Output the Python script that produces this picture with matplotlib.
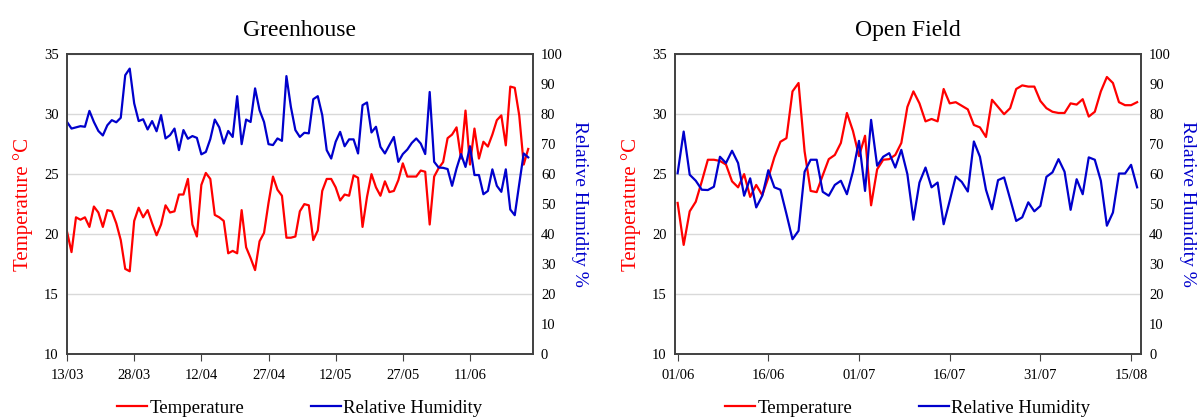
import pandas as pd
import matplotlib.pyplot as plt
import matplotlib.dates as mdates

plt.rcParams['font.family'] = ['Liberation Serif', 'DejaVu Serif']

# Greenhouse daily means, 13/03 onwards
gh_temp = [20.2, 18.5, 21.4, 21.2, 21.4, 20.6, 22.3, 21.8, 20.6, 22.0,
           21.9, 20.9, 19.5, 17.1, 16.9, 21.1, 22.2, 21.4, 22.0, 20.9,
           19.9, 20.8, 22.4, 21.8, 21.9, 23.3, 23.3, 24.6, 20.8, 19.8,
           24.1, 25.1, 24.6, 21.6, 21.4, 21.1, 18.4, 18.6, 18.4, 22.0,
           18.9, 18.0, 17.0, 19.4, 20.1, 22.6, 24.8, 23.7, 23.2, 19.7,
           19.7, 19.8, 21.9, 22.5, 22.4, 19.5, 20.3, 23.6, 24.6, 24.6,
           23.9, 22.8, 23.3, 23.2, 24.9, 24.7, 20.6, 23.1, 25.0, 23.9,
           23.2, 24.4, 23.5, 23.6, 24.5, 25.9, 24.8, 24.8, 24.8, 25.3,
           25.2, 20.8, 24.8, 25.5, 26.0, 28.0, 28.3, 28.9, 26.3, 30.3,
           25.8, 28.8, 26.3, 27.7, 27.3, 28.3, 29.5, 29.9, 27.4, 32.3,
           32.2, 29.9, 25.8, 27.1]
gh_rh = [77.4, 75.2, 75.6, 76.0, 75.8, 81.1, 77.4, 74.4, 72.9, 76.3,
         78.0, 77.3, 78.8, 93.0, 95.2, 83.6, 77.7, 78.3, 74.9, 77.7,
         74.3, 79.7, 71.9, 73.0, 75.2, 68.0, 74.7, 71.8, 72.7, 72.1,
         66.6, 67.4, 71.7, 78.2, 75.6, 70.2, 74.4, 72.4, 86.0, 70.0,
         78.2, 77.4, 88.6, 81.3, 77.4, 70.0, 69.7, 71.9, 71.1, 92.7,
         82.4, 74.7, 72.4, 73.8, 73.6, 85.0, 86.0, 79.7, 68.0, 65.2,
         70.8, 74.1, 69.3, 71.6, 71.6, 66.9, 83.0, 83.9, 73.9, 75.8,
         69.1, 66.9, 69.7, 72.4, 64.1, 66.7, 68.2, 70.4, 71.9, 70.2,
         66.7, 87.4, 64.1, 62.2, 62.1, 61.7, 56.1, 61.9, 66.7, 62.4,
         69.3, 59.7, 59.7, 53.3, 54.4, 61.6, 56.1, 54.1, 61.6, 48.2,
         46.3, 56.7, 66.9, 65.6]

# Open field daily means, 01/06 onwards
of_temp = [22.6, 19.1, 21.9, 22.7, 24.4, 26.2, 26.2, 26.1, 25.8, 24.4,
           23.9, 25.0, 23.1, 24.1, 23.25, 24.7, 26.4, 27.7, 28.0, 31.9,
           32.6, 26.9, 23.6, 23.5, 24.9, 26.25, 26.6, 27.6, 30.1, 28.6,
           26.5, 28.2, 22.4, 25.4, 26.2, 26.25, 26.6, 27.6, 30.6, 31.9,
           30.9, 29.4, 29.6, 29.4, 32.1, 30.9, 31.0, 30.7, 30.4, 29.1,
           28.9, 28.1, 31.2, 30.6, 30.0, 30.5, 32.1, 32.4, 32.3, 32.3,
           31.1, 30.5, 30.2, 30.1, 30.1, 30.9, 30.8, 31.25, 29.8, 30.2,
           31.9, 33.1, 32.6, 31.0, 30.75, 30.75, 31.0]
of_rh = [60.3, 74.2, 59.8, 57.8, 54.8, 54.7, 55.8, 65.8, 63.7, 67.8,
         63.7, 52.8, 58.6, 48.9, 52.8, 61.3, 55.6, 54.8, 46.7, 38.3,
         41.1, 60.8, 64.8, 64.8, 54.1, 52.8, 56.4, 57.8, 53.3, 60.9,
         71.1, 54.4, 78.1, 62.8, 65.8, 67.0, 62.2, 68.1, 60.0, 44.8,
         57.2, 62.2, 55.6, 57.2, 43.3, 51.1, 59.2, 57.4, 54.2, 70.9,
         65.8, 54.8, 48.3, 58.0, 58.9, 51.7, 44.4, 45.6, 50.6, 47.6,
         49.4, 59.1, 60.6, 65.0, 60.8, 48.1, 58.3, 53.3, 65.6, 64.8,
         57.8, 42.8, 47.2, 60.2, 60.2, 63.1, 55.6]

gh_dates = pd.date_range('2021-03-13', periods=len(gh_temp), freq='D')
of_dates = pd.date_range('2021-06-01', periods=len(of_temp), freq='D')

RED = '#ff0000'
BLUE = '#0000cc'
FRAME = '#404040'

fig = plt.figure(figsize=(11.97, 4.17), dpi=100)


def panel(rect, dates, temp, rh, title, xlim):
    ax = fig.add_axes(rect)
    ax2 = ax.twinx()
    l1, = ax.plot(dates, temp, color=RED, lw=1.6, label='Temperature')
    l2, = ax2.plot(dates, rh, color=BLUE, lw=1.6, label='Relative Humidity')

    ax.set_ylim(10, 35)
    ax.set_yticks(range(10, 36, 5))
    ax2.set_ylim(0, 100)
    ax2.set_yticks(range(0, 101, 10))
    ax.set_xlim(xlim)
    ax.set_xticks(dates[::15])
    ax.xaxis.set_major_formatter(mdates.DateFormatter('%d/%m'))

    ax.yaxis.grid(True, color='#d9d9d9', lw=1)
    ax.set_axisbelow(True)

    for a in (ax, ax2):
        for s in a.spines.values():
            s.set_color(FRAME)
            s.set_linewidth(1.2)
        a.tick_params(axis='y', length=0, labelsize=10.5, pad=6)
    ax.tick_params(axis='x', direction='out', length=5, color=FRAME,
                   labelsize=10.5, pad=6)

    ax.set_title(title, fontsize=17, pad=13)
    ax.set_ylabel('Temperature °C', color=RED, fontsize=15, labelpad=8)
    ax2.set_ylabel('Relative Humidity %', color=BLUE, fontsize=14,
                   rotation=270, labelpad=18)

    ax.legend([l1, l2], [l1.get_label(), l2.get_label()], loc='center',
              bbox_to_anchor=(0.5, -0.18), ncol=2, frameon=False,
              fontsize=13.5, handlelength=1.6, handletextpad=0.1,
              columnspacing=3.6)
    return ax


panel([0.056, 0.151, 0.389, 0.719], gh_dates, gh_temp, gh_rh, 'Greenhouse',
      (gh_dates[0], gh_dates[0] + pd.Timedelta(days=104)))
panel([0.564, 0.151, 0.389, 0.719], of_dates, of_temp, of_rh, 'Open Field',
      (of_dates[0] - pd.Timedelta(hours=10), of_dates[0] + pd.Timedelta(days=76.6)))

fig.savefig('out.png', dpi=100)
